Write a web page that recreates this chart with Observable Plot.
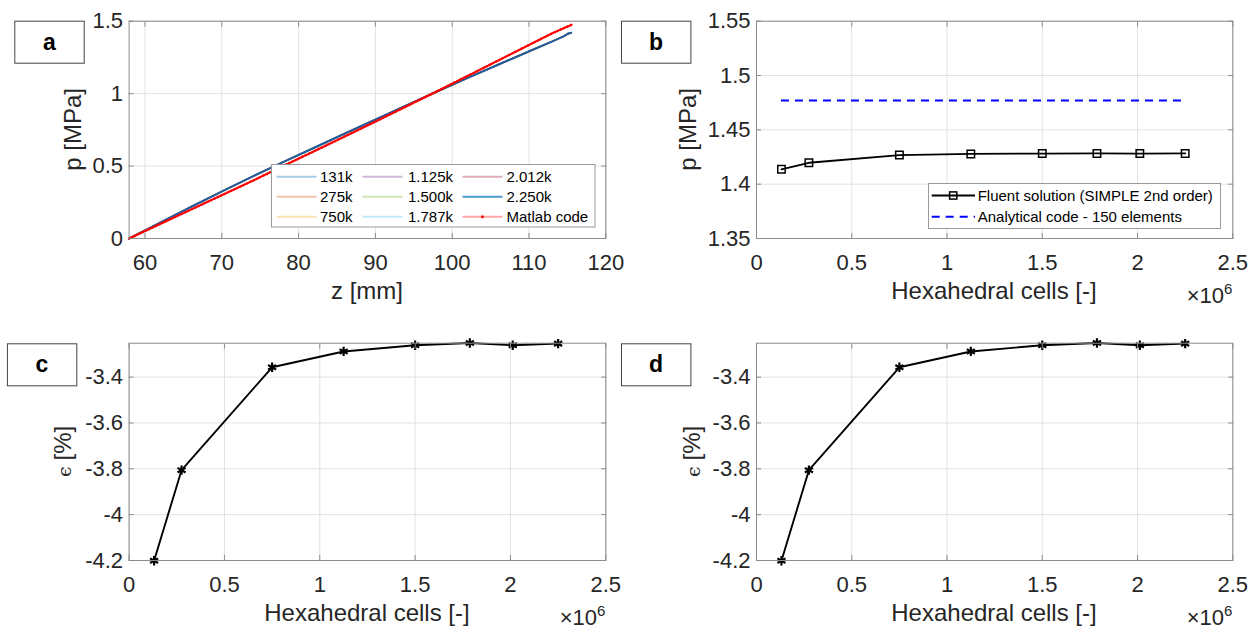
<!DOCTYPE html>
<html><head><meta charset="utf-8">
<script src="https://cdn.jsdelivr.net/npm/d3@7"></script>
<script src="https://cdn.jsdelivr.net/npm/@observablehq/plot@0.6"></script>
<style>
body{margin:0;background:#fff;}
#root{position:relative;width:1250px;height:628px;overflow:hidden;background:#fff;font-family:"Liberation Sans",Arial,sans-serif;}
.panel{position:absolute;}
#overlay{position:absolute;left:0;top:0;pointer-events:none;}
</style></head><body><div id="root"></div>
<script>
// ---------- data ----------
// panel a: pressure profile along z (Fluent meshes overlap, read as one profile)
const fluentZ = [57.93, 62, 66, 70, 74, 78, 82, 86, 90, 94, 98, 102, 106, 110, 113, 114.6, 115.1, 115.5];
const fluentP = [0, 0.110, 0.218, 0.324, 0.428, 0.528, 0.626, 0.724, 0.821, 0.918, 1.014, 1.108, 1.200, 1.292, 1.360, 1.398, 1.415, 1.420];
const matlabZ = [57.93, 62, 66, 70, 74, 78, 82, 86, 90, 94, 98, 102, 106, 110, 113, 115.6];
const matlabP = [0, 0.101, 0.200, 0.299, 0.398, 0.501, 0.602, 0.704, 0.807, 0.911, 1.016, 1.122, 1.229, 1.336, 1.416, 1.477];
const meshNames = ["131k", "275k", "750k", "1.125k", "1.500k", "1.787k", "2.012k", "2.250k"];
const meshColors = ["#0072BD", "#D95319", "#EDB120", "#7E2F8E", "#77AC30", "#4DBEEE", "#A2142F", "#0072BD"];
const meshOpacity = [0.35, 0.35, 0.35, 0.35, 0.35, 0.35, 0.35, 0.7];
const matlabName = "Matlab code";
// panels b, c, d: mesh study
const cells = [131000, 275000, 750000, 1125000, 1500000, 1787000, 2012000, 2250000];
const pOutlet = [1.4137, 1.4197, 1.4268, 1.4278, 1.4282, 1.4283, 1.4282, 1.4283];
const pAnalytical = 1.4769;
const errPct = [-4.201, -3.806, -3.357, -3.288, -3.261, -3.251, -3.261, -3.254];
const legendB = ["Fluent solution (SIMPLE 2nd order)", "Analytical code - 150 elements"];
// ticks
const zTicks = [60, 70, 80, 90, 100, 110, 120];
const pTicksA = [0, 0.5, 1, 1.5];
const cellTicks = [0, 500000, 1000000, 1500000, 2000000, 2500000];
const pTicksB = [1.35, 1.4, 1.45, 1.5, 1.55];
const errTicks = [-4.2, -4, -3.8, -3.6, -3.4];

// ---------- helpers ----------
const FONT = "Liberation Sans, Arial, Helvetica, sans-serif";
const INK = "#262626";
const AXC = "#8c8c8c";
const fmtNum = d => String(+(+d).toFixed(3));
const fmtCells = d => String(+(d / 1e6).toFixed(2));

function gridMarks(xt, yt) {
  const g = {stroke: "#e2e2e2", strokeOpacity: 1, strokeWidth: 1};
  return [Plot.gridX({ticks: xt, ...g}), Plot.gridY({ticks: yt, ...g})];
}
function axisMarks(xt, yt, xf, yf) {
  const tk = {tickSize: -5, tickFormat: () => "", stroke: AXC, label: null};
  return [
    Plot.frame({stroke: AXC, strokeWidth: 1}),
    Plot.axisX({ticks: xt, anchor: "bottom", ...tk}),
    Plot.axisX({ticks: xt, anchor: "top", ...tk}),
    Plot.axisY({ticks: yt, anchor: "left", ...tk}),
    Plot.axisY({ticks: yt, anchor: "right", ...tk}),
    Plot.axisX({ticks: xt, anchor: "bottom", tickSize: 0, tickPadding: 15.5, tickFormat: xf, label: null, fill: INK, fontSize: 22}),
    Plot.axisY({ticks: yt, anchor: "left", tickSize: 0, tickPadding: 6, tickFormat: yf, label: null, fill: INK, fontSize: 22})
  ];
}
const baseStyle = {fontSize: "22px", fontFamily: FONT, color: INK, background: "transparent", overflow: "visible"};

function place(svg, left, top) {
  const d = document.createElement("div");
  d.className = "panel";
  d.style.left = left + "px";
  d.style.top = top + "px";
  d.appendChild(svg);
  document.getElementById("root").appendChild(d);
}

// ---------- panel a ----------
const fluentRows = fluentZ.map((z, i) => ({z, p: fluentP[i]}));
const matlabRows = matlabZ.map((z, i) => ({z, p: matlabP[i]}));
const plotA = Plot.plot({
  width: 625, height: 310,
  marginLeft: 128.6, marginRight: 19.7, marginTop: 20.7, marginBottom: 72,
  style: baseStyle,
  x: {domain: [57.93, 120]},
  y: {domain: [0, 1.5]},
  marks: [
    ...gridMarks(zTicks, pTicksA),
    ...meshNames.map((n, i) => Plot.line(fluentRows, {x: "z", y: "p", stroke: meshColors[i], strokeOpacity: meshOpacity[i] + 0.1, strokeWidth: 1.8})),
    Plot.line(fluentRows, {x: "z", y: "p", stroke: "#2b3f8a", strokeOpacity: 0.45, strokeWidth: 1.2}),
    Plot.line(matlabRows, {x: "z", y: "p", stroke: "#ff0000", strokeOpacity: 0.3, strokeWidth: 1.3}),
    Plot.line(matlabRows, {x: "z", y: "p", stroke: "#ff0000", strokeWidth: 2.4, strokeDasharray: "1.6,2.0"}),
    ...axisMarks(zTicks, pTicksA, fmtNum, fmtNum)
  ]
});
place(plotA, 0, 0);

// ---------- panel b ----------
const rowsB = cells.map((c, i) => ({c, p: pOutlet[i]}));
const plotB = Plot.plot({
  width: 625, height: 310,
  marginLeft: 131, marginRight: 17.7, marginTop: 20.7, marginBottom: 72,
  style: baseStyle,
  x: {domain: [0, 2500000]},
  y: {domain: [1.35, 1.55]},
  marks: [
    ...gridMarks(cellTicks, pTicksB),
    Plot.ruleY([pAnalytical], {x1: cells[0], x2: cells[cells.length - 1], stroke: "#0000ff", strokeWidth: 2, strokeDasharray: "8,6"}),
    Plot.line(rowsB, {x: "c", y: "p", stroke: "#000", strokeWidth: 1.8}),
    Plot.dot(rowsB, {x: "c", y: "p", symbol: "square", r: 4.2, stroke: "#000", fill: "none", strokeWidth: 1.5}),
    ...axisMarks(cellTicks, pTicksB, fmtCells, fmtNum)
  ]
});
place(plotB, 625, 0);

// ---------- panels c, d ----------
const rowsE = cells.map((c, i) => ({c, e: errPct[i]}));
function errPlot(ml, mr) {
  return Plot.plot({
    width: 625, height: 318,
    marginLeft: ml, marginRight: mr, marginTop: 32.7, marginBottom: 68,
    style: baseStyle,
    x: {domain: [0, 2500000]},
    y: {domain: [-4.2, -3.252]},
    marks: [
      ...gridMarks(cellTicks, errTicks),
      Plot.line(rowsE, {x: "c", y: "e", stroke: "#000", strokeWidth: 1.9}),
      Plot.dot(rowsE, {x: "c", y: "e", symbol: "asterisk", r: 4.4, stroke: "#000", strokeWidth: 2.2}),
      ...axisMarks(cellTicks, errTicks, fmtCells, fmtNum)
    ]
  });
}
place(errPlot(128.6, 19.7), 0, 310);
place(errPlot(131, 17.7), 625, 310);

// ---------- overlay: panel letters, axis titles, legends ----------
const ov = d3.create("svg").attr("id", "overlay").attr("width", 1250).attr("height", 628)
  .style("font-family", FONT);

// panel letter boxes
const boxes = [
  {t: "a", x: 14.3, y: 20.7}, {t: "b", x: 621, y: 20.7},
  {t: "c", x: 6.9, y: 343.3}, {t: "d", x: 621, y: 343.3}
];
for (const b of boxes) {
  ov.append("rect").attr("x", b.x + 0.5).attr("y", b.y + 0.5).attr("width", 69.4).attr("height", 42)
    .attr("fill", "#fff").attr("stroke", "#444").attr("stroke-width", 1);
  ov.append("text").attr("x", b.x + 35).attr("y", b.y + 29).attr("text-anchor", "middle")
    .attr("font-size", 23).attr("font-weight", "bold").attr("fill", "#000").text(b.t);
}

// x-axis titles
const xt = [
  {t: "z [mm]", cx: 367, y: 299, exp: false, right: 605.3},
  {t: "Hexahedral cells [-]", cx: 994, y: 299, exp: true, right: 1232.3},
  {t: "Hexahedral cells [-]", cx: 367, y: 621, exp: true, right: 605.3},
  {t: "Hexahedral cells [-]", cx: 994, y: 621, exp: true, right: 1232.3}
];
for (const a of xt) {
  ov.append("text").attr("x", a.cx).attr("y", a.y).attr("text-anchor", "middle")
    .attr("font-size", 24).attr("fill", INK).text(a.t);
  if (a.exp) {
    const t = ov.append("text").attr("x", a.right).attr("y", a.y + 3.5).attr("text-anchor", "end")
      .attr("font-size", 22).attr("fill", INK);
    t.append("tspan").text("\u00d710");
    t.append("tspan").attr("dy", -9).attr("font-size", 15).text("6");
  }
}

// y-axis titles (rotated)
const yt = [
  {t: "p [MPa]", x: 81, y: 129.4, eps: false},
  {t: "p [MPa]", x: 695.5, y: 129.4, eps: false},
  {t: "[%]", x: 70.5, y: 451.4, eps: true},
  {t: "[%]", x: 699.5, y: 451.4, eps: true}
];
for (const a of yt) {
  const t = ov.append("text").attr("transform", `translate(${a.x},${a.y}) rotate(-90)`)
    .attr("text-anchor", "middle").attr("font-size", 24).attr("fill", INK);
  if (a.eps) {
    t.append("tspan").attr("font-size", 19).attr("font-family", "DejaVu Serif, serif").text("\u03f5 ");
    t.append("tspan").text(a.t);
  } else t.text(a.t);
}

// legend a
ov.append("rect").attr("x", 271.5).attr("y", 164.5).attr("width", 323.5).attr("height", 62.5)
  .attr("fill", "#fff").attr("stroke", "#999").attr("stroke-width", 1);
const legA = meshNames.map((n, i) => ({n, color: meshColors[i], op: meshOpacity[i], dots: false}))
  .concat([{n: matlabName, color: "#ff0000", op: 0.35, dots: true}]);
const colX = [276.7, 362.5, 462.5];
const txtX = [320, 408, 506.5];
const rowY = [176.7, 196.7, 216.7];
legA.forEach((d, i) => {
  const c = Math.floor(i / 3), r = i % 3;
  const y = rowY[r];
  ov.append("line").attr("x1", colX[c]).attr("x2", colX[c] + 40).attr("y1", y).attr("y2", y)
    .attr("stroke", d.color).attr("stroke-opacity", d.op).attr("stroke-width", 2);
  if (d.dots) ov.append("circle").attr("cx", colX[c] + 20).attr("cy", y).attr("r", 1.5).attr("fill", "#ff0000");
  ov.append("text").attr("x", txtX[c]).attr("y", y + 5.3).attr("font-size", 15).attr("fill", "#000").text(d.n);
});

// legend b
ov.append("rect").attr("x", 928.5).attr("y", 183.5).attr("width", 292).attr("height", 45)
  .attr("fill", "#fff").attr("stroke", "#999").attr("stroke-width", 1);
ov.append("line").attr("x1", 931.7).attr("x2", 975).attr("y1", 195.5).attr("y2", 195.5)
  .attr("stroke", "#000").attr("stroke-width", 1.8);
ov.append("rect").attr("x", 949.6).attr("y", 191.9).attr("width", 7.2).attr("height", 7.2)
  .attr("fill", "none").attr("stroke", "#000").attr("stroke-width", 1.5);
ov.append("text").attr("x", 977.7).attr("y", 200.8).attr("font-size", 15).attr("fill", "#000").text(legendB[0]);
ov.append("line").attr("x1", 931.7).attr("x2", 975).attr("y1", 216.7).attr("y2", 216.7)
  .attr("stroke", "#0000ff").attr("stroke-width", 2).attr("stroke-dasharray", "8,6");
ov.append("text").attr("x", 977.7).attr("y", 222).attr("font-size", 15).attr("fill", "#000").text(legendB[1]);

document.getElementById("root").appendChild(ov.node());
</script></body></html>
